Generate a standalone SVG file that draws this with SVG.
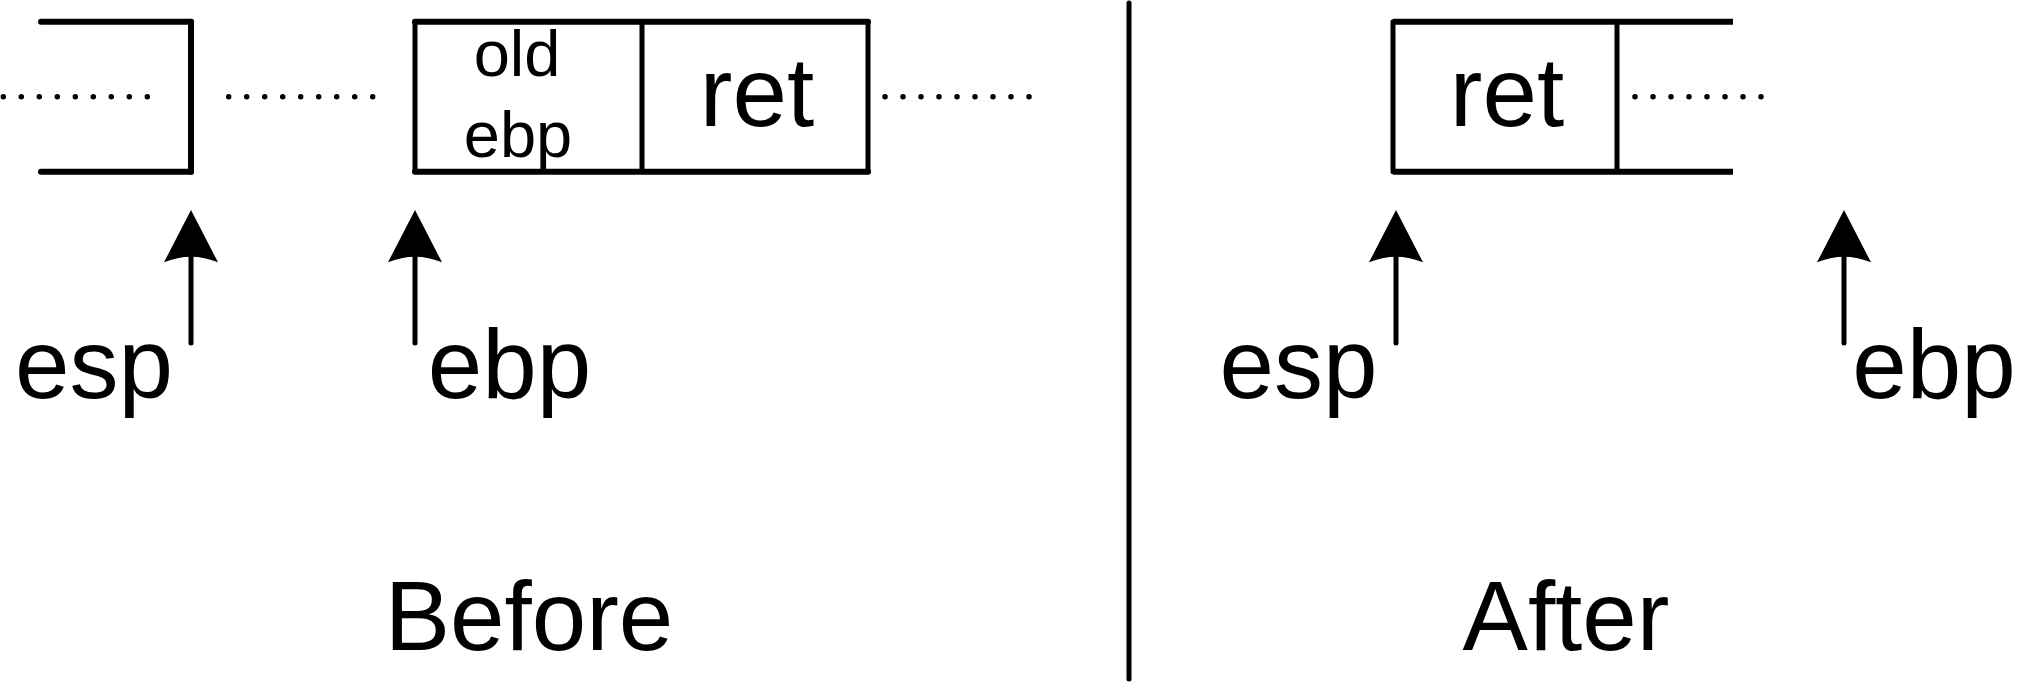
<svg xmlns="http://www.w3.org/2000/svg" width="2020" height="682" viewBox="0 0 2020 682">
<style>
.h{stroke:#000;stroke-width:6;fill:none;stroke-linecap:round}
.v{stroke:#000;stroke-width:5;fill:none;stroke-linecap:round}
.dots{stroke:#000;stroke-width:5.5;fill:none;stroke-linecap:round;stroke-dasharray:0 18}
.ptr{stroke:#000;stroke-width:5;fill:none;stroke-linecap:round}
text{font-family:"Liberation Sans",Arial,sans-serif;fill:#000;text-anchor:middle}
.big{font-size:98px}
.small{font-size:65px}
</style>
<defs>
<marker id="ah" markerUnits="userSpaceOnUse" orient="auto" viewBox="-10 -30 60 60" markerWidth="60" markerHeight="60" refX="0" refY="0" overflow="visible">
<path d="M46.7,0 L-5.6,27 Q5.6,0 -5.6,-27 Z" fill="#000"/>
</marker>
</defs>

<g id="divider"><line class="v" x1="1129" y1="3" x2="1129" y2="679"/></g>

<g id="before-bracket">
<line class="h" x1="41" y1="21.7" x2="191" y2="21.7"/>
<line class="h" x1="41" y1="171.7" x2="191" y2="171.7"/>
<line class="v" x1="191" y1="21.7" x2="191" y2="171.7" style="stroke-width:6"/>
</g>

<g id="before-box">
<line class="h" x1="415" y1="21.7" x2="868" y2="21.7"/>
<line class="h" x1="415" y1="171.7" x2="868" y2="171.7"/>
<line class="v" x1="415" y1="21.7" x2="415" y2="171.7"/>
<line class="v" x1="868" y1="21.7" x2="868" y2="171.7"/>
<line class="v" x1="642" y1="21.7" x2="642" y2="171.7"/>
<text class="small" x="517" y="76">old</text>
<text class="small" x="518" y="157">ebp</text>
<text class="big" x="757" y="126">ret</text>
</g>

<g id="after-box">
<line class="h" x1="1393" y1="21.7" x2="1733" y2="21.7" style="stroke-linecap:butt"/>
<line class="h" x1="1393" y1="171.7" x2="1733" y2="171.7" style="stroke-linecap:butt"/>
<line class="v" x1="1393" y1="21.7" x2="1393" y2="171.7"/>
<line class="v" x1="1617" y1="21.7" x2="1617" y2="171.7"/>
<text class="big" x="1507" y="126">ret</text>
</g>

<g id="dots">
<line class="dots" x1="3.3" y1="96.7" x2="148" y2="96.7"/>
<line class="dots" x1="228.7" y1="96.7" x2="373" y2="96.7"/>
<line class="dots" x1="885" y1="96.7" x2="1030" y2="96.7"/>
<line class="dots" x1="1635" y1="96.7" x2="1762" y2="96.7"/>
</g>

<g id="connectors">
<line class="ptr" x1="191" y1="343" x2="191" y2="256.7" marker-end="url(#ah)"/>
<line class="ptr" x1="415" y1="343" x2="415" y2="256.7" marker-end="url(#ah)"/>
<line class="ptr" x1="1396" y1="343" x2="1396" y2="256.7" marker-end="url(#ah)"/>
<line class="ptr" x1="1844" y1="343" x2="1844" y2="256.7" marker-end="url(#ah)"/>
</g>

<g id="label-esp-before"><text class="big" x="94" y="398">esp</text></g>
<g id="label-ebp-before"><text class="big" x="509.5" y="398">ebp</text></g>
<g id="label-esp-after"><text class="big" x="1298.5" y="398">esp</text></g>
<g id="label-ebp-after"><text class="big" x="1934" y="398">ebp</text></g>

<g id="caption-before"><text class="big" x="529" y="650">Before</text></g>
<g id="caption-after"><text class="big" x="1566" y="650">After</text></g>
</svg>
